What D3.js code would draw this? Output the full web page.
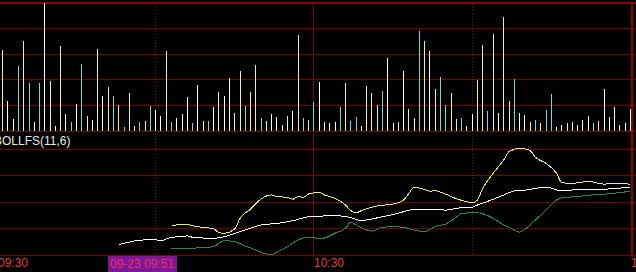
<!DOCTYPE html>
<html>
<head>
<meta charset="utf-8">
<script src="https://cdn.jsdelivr.net/npm/d3@7"></script>
<style>
	html, body { margin: 0; padding: 0; background: #000; overflow: hidden; }
	svg { display: block; }
	text { font-family: "Liberation Sans", Arial, sans-serif; font-size: 12px; }
</style>
</head>
<body>
<div id="chart"></div>
<script>
"use strict";

// Minutes counted from 09:30 (0) to 11:30 (120), one volume bar per minute (09:31 .. 11:30)
var volumes = [
	81, 30, 12, 65, 90, 48, 9, 48, 128, 50,
	5, 85, 17, 9, 27, 67, 15, 11, 82, 35,
	44, 35, 26, 4, 38, 5, 9, 10, 25, 21,
	15, 80, 9, 13, 17, 34, 8, 46, 10, 10,
	24, 39, 35, 53, 18, 60, 25, 39, 66, 13,
	10, 17, 14, 6, 15, 20, 96, 13, 11, 29,
	49, 9, 8, 9, 24, 48, 10, 14, 5, 45,
	38, 26, 40, 73, 8, 9, 60, 22, 13, 100,
	90, 80, 42, 54, 26, 38, 12, 13, 5, 17,
	51, 86, 20, 97, 18, 114, 30, 52, 18, 16,
	9, 11, 8, 21, 37, 4, 6, 8, 9, 6,
	11, 15, 8, 10, 42, 14, 24, 6, 8, 22
];

// Bar colour class per minute: Y = yellow, W = white, C = cyan
var volKinds = ("YWWCYCWCWY" + "WYWCWCYWYW" + "YCYCYWCYCW" + "WYCWWWCWYC" +
	"WYWWYYCYYC" + "WWWWYWYCYC" + "WWWWCYCCWY" + "YYCWWYWYWC" +
	"YWYCCYYCWW" + "YYCYWYYCWW" + "YCYCCWWYWW" + "WWCYWWWWWW").split("");

// BOLLFS(11,6) lines: minute index and value
var upperTime = [33, 35, 36, 37, 39, 41, 42, 43, 45, 46, 48, 50, 51, 52, 53, 55, 56, 57, 58, 59,
	61, 62, 64, 66, 67, 68, 69, 71, 72, 75, 77, 78, 79, 81, 82, 83, 85, 87, 89, 90,
	91, 92, 94, 96, 97, 99, 100, 101, 102, 104, 106, 107, 109, 112, 115, 118, 120];
var upperVals = [1.10, 1.17, 1.17, 1.11, 1.05, 1.00, 0.85, 0.83, 1.00, 1.39, 1.74, 2.12, 2.23, 2.27, 2.21, 2.18, 2.11, 2.21, 2.18, 2.31,
	2.36, 2.27, 2.14, 1.89, 1.68, 1.60, 1.68, 1.81, 1.86, 1.93, 2.08, 2.33, 2.56, 2.48, 2.41, 2.43, 2.30, 2.13, 2.02, 1.98,
	2.08, 2.52, 3.09, 3.59, 3.90, 4.03, 4.00, 3.94, 3.69, 3.46, 3.09, 2.73, 2.71, 2.78, 2.68, 2.71, 2.67];

var midTime = [23, 24, 26, 28, 30, 31, 32, 33, 35, 36, 37, 41, 43, 46, 48, 50, 53, 56, 59, 62,
	65, 67, 69, 70, 73, 75, 77, 79, 81, 83, 85, 87, 90, 91, 94, 96, 98, 100, 102, 104,
	105, 107, 109, 112, 115, 118, 120];
var midVals = [0.41, 0.45, 0.54, 0.58, 0.58, 0.54, 0.61, 0.68, 0.70, 0.73, 0.68, 0.64, 0.70, 0.89, 1.02, 1.14, 1.20, 1.30, 1.45, 1.48,
	1.48, 1.42, 1.30, 1.33, 1.45, 1.53, 1.64, 1.73, 1.73, 1.74, 1.70, 1.77, 1.81, 1.89, 2.11, 2.27, 2.42, 2.45, 2.52, 2.56,
	2.53, 2.42, 2.46, 2.49, 2.49, 2.53, 2.56];

var lowerTime = [33, 35, 37, 38, 41, 42, 43, 45, 47, 49, 51, 52, 53, 55, 57, 59, 61, 62, 64, 66,
	67, 68, 70, 71, 73, 75, 77, 79, 81, 83, 85, 87, 88, 91, 94, 96, 98, 99, 100, 102,
	104, 106, 107, 110, 112, 115, 118, 120];
var lowerVals = [0.24, 0.26, 0.24, 0.29, 0.32, 0.47, 0.55, 0.51, 0.35, 0.20, 0.05, 0.02, 0.12, 0.32, 0.58, 0.68, 0.63, 0.65, 0.83, 1.02,
	1.24, 1.14, 0.95, 0.91, 1.05, 1.08, 1.05, 0.95, 0.89, 1.08, 1.18, 1.43, 1.58, 1.60, 1.39, 1.14, 0.95, 0.87, 0.98, 1.33,
	1.70, 2.08, 2.17, 2.21, 2.26, 2.30, 2.36, 2.41];

// Axis ticks and labels
var timeTicks = [0, 60, 120];
var timeLabels = ["09:30", "10:30", "11:30"];
var halfHourTicks = [30, 90];
var volTicks = [0, 25.6, 51.2, 76.8, 102.4, 128];
var bollTicks = [0, 1, 2, 3, 4];
var cursorMinute = 21;
var cursorLabel = "09-23 09:51";
var indicatorName = "BOLLFS(11,6)";

var W = 636, H = 272;
var colors = { Y: "#f0f096", W: "#ffffff", C: "#78d8d8" };
var gridColor = "#7c0000", borderColor = "#900000";

var svg = d3.select("#chart").append("svg")
	.attr("width", W)
	.attr("height", H)
	.style("background", "#000");

var x = d3.scaleLinear().domain([0, 120]).range([-2.6, 630.4]);
var yVol = d3.scaleLinear().domain([0, 128]).range([131, 3]);
var yBoll = d3.scaleLinear().domain([0, 4]).range([255.3, 149]);

function px(v) { return Math.floor(v) + 0.5; }

var grid = svg.append("g").attr("shape-rendering", "crispEdges");

// Horizontal grid, volume panel
grid.selectAll(".hv").data(volTicks).enter().append("line")
	.attr("x1", 0).attr("x2", W)
	.attr("y1", function (d) { return d === 128 ? 3 : px(yVol(d)); })
	.attr("y2", function (d) { return d === 128 ? 3 : px(yVol(d)); })
	.attr("stroke", function (d) { return d === 128 ? borderColor : gridColor; })
	.attr("stroke-width", function (d) { return d === 128 ? 2 : 1; });

// Horizontal grid, indicator panel
grid.selectAll(".hb").data(bollTicks).enter().append("line")
	.attr("x1", 0).attr("x2", W)
	.attr("y1", function (d) { return px(yBoll(d)); })
	.attr("y2", function (d) { return px(yBoll(d)); })
	.attr("stroke", gridColor);

// Half hour dotted verticals
grid.selectAll(".vd").data(halfHourTicks).enter().append("line")
	.attr("x1", function (d) { return px(x(d)); })
	.attr("x2", function (d) { return px(x(d)); })
	.attr("y1", 4).attr("y2", 254)
	.attr("stroke", "#7a1010")
	.attr("stroke-dasharray", "1,2");

// Hour verticals
grid.append("line")
	.attr("x1", px(x(60))).attr("x2", px(x(60)))
	.attr("y1", 3).attr("y2", 258)
	.attr("stroke", "#800000");

grid.append("line")
	.attr("x1", Math.floor(x(120)) + 2).attr("x2", Math.floor(x(120)) + 2)
	.attr("y1", 2).attr("y2", 257)
	.attr("stroke", borderColor)
	.attr("stroke-width", 2);

// Volume bars
svg.append("g").attr("shape-rendering", "crispEdges")
	.selectAll("rect").data(volumes).enter().append("rect")
	.attr("x", function (d, i) { return Math.floor(x(i + 1)); })
	.attr("width", 1)
	.attr("y", function (d) { return Math.round(yVol(d)); })
	.attr("height", function (d) { return 131 - Math.round(yVol(d)); })
	.attr("fill", function (d, i) { return colors[volKinds[i]]; });

// BOLL lines
var line = d3.line()
	.x(function (d) { return x(d[0]); })
	.y(function (d) { return yBoll(d[1]); })
	.curve(d3.curveMonotoneX);

function zip(t, v) { return t.map(function (m, i) { return [m, v[i]]; }); }

[[lowerTime, lowerVals, "#2b8a3c"], [midTime, midVals, "#ffffff"], [upperTime, upperVals, "#f0f040"]]
	.forEach(function (s) {
		svg.append("path")
			.attr("d", line(zip(s[0], s[1])))
			.attr("fill", "none")
			.attr("stroke", s[2])
			.attr("stroke-width", 1)
			.attr("shape-rendering", "crispEdges");
	});

// Indicator title
svg.append("text")
	.attr("x", -6).attr("y", 145)
	.attr("fill", "#e8e8e8")
	.text(indicatorName);

// Time labels
svg.selectAll(".tl").data(timeTicks).enter().append("text")
	.attr("x", function (d) { return Math.floor(x(d)) + 1; })
	.attr("y", 267)
	.attr("fill", "#e03c3c")
	.text(function (d, i) { return timeLabels[i]; });

// Cursor label box
var cg = svg.append("g");
var cbox = cg.append("rect").attr("fill", "#7d1896");
var ctext = cg.append("text")
	.attr("x", Math.floor(x(cursorMinute)) + 2)
	.attr("y", 268)
	.attr("fill", "#e8306a")
	.text(cursorLabel);
var tw = ctext.node().getComputedTextLength();
cbox.attr("x", Math.floor(x(cursorMinute)))
	.attr("y", 256)
	.attr("width", Math.ceil(tw) + 4)
	.attr("height", 16);
</script>
</body>
</html>
